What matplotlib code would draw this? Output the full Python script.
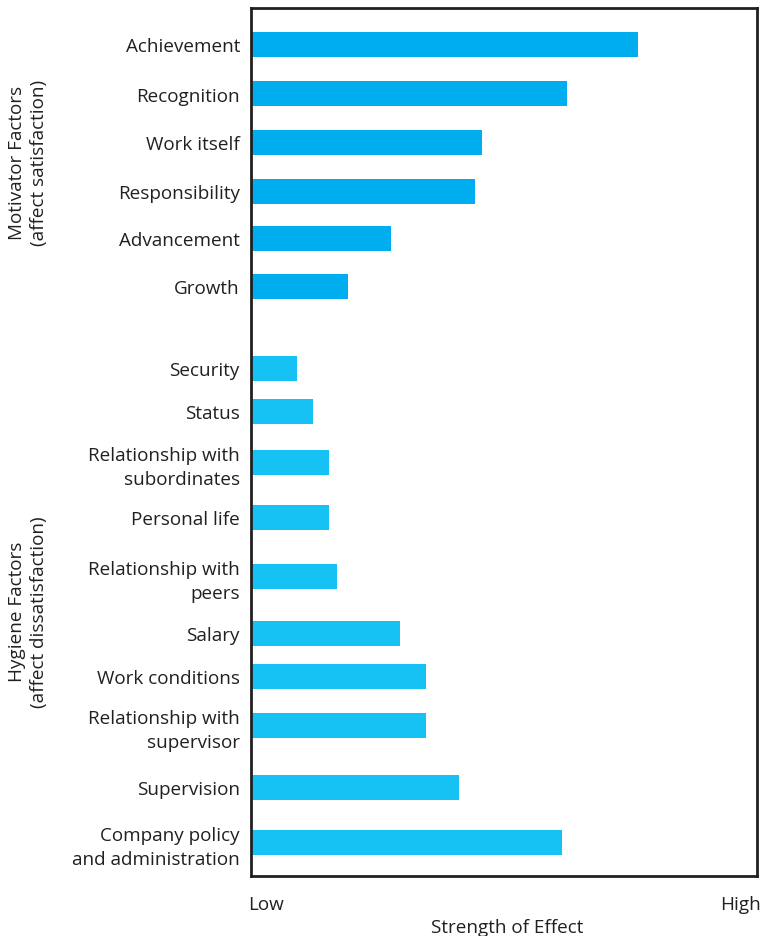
import matplotlib.pyplot as plt

plt.rcParams['font.family'] = ['Open Sans', 'DejaVu Sans']

# Data: factor names and strength (0 = low, 100 = high)
motivators = ['Achievement', 'Recognition', 'Work itself', 'Responsibility',
              'Advancement', 'Growth']
motivator_vals = [76.4, 62.4, 45.7, 44.2, 27.7, 19.2]

hygiene = ['Security', 'Status', 'Relationship with\nsubordinates', 'Personal life',
           'Relationship with\npeers', 'Salary', 'Work conditions',
           'Relationship with\nsupervisor', 'Supervision',
           'Company policy\nand administration']
hygiene_vals = [9.1, 12.3, 15.4, 15.4, 17.0, 29.5, 34.5, 34.5, 41.2, 61.4]

# layout: vertical centers of the bars (top-down, same units as figure pixels)
motivator_pos = [45, 94.5, 143, 192, 239, 287]
hygiene_pos = [369, 412, 463, 518, 577, 634, 677, 726, 788, 843]

fig = plt.figure(figsize=(7.61, 9.37), dpi=100)
ax = fig.add_axes([251 / 761, 1 - 877 / 937, 506 / 761, 868 / 937])

ax.barh(motivator_pos, motivator_vals, height=25, color='#00AEEF', linewidth=0)
ax.barh(hygiene_pos, hygiene_vals, height=25, color='#16C2F3', linewidth=0)

ax.set_xlim(0, 100)
ax.set_ylim(877, 9)
ax.set_xticks([])
ax.set_yticks(motivator_pos + hygiene_pos)
ax.set_yticklabels(motivators + hygiene, fontsize=13.6, color='#231F20',
                   linespacing=1.45)
ax.tick_params(axis='y', length=0, pad=8)
for s in ax.spines.values():
    s.set_linewidth(2)
    s.set_color('#231F20')

fig.text(248 / 761, 1 - 905 / 937, 'Low', fontsize=13.6, color='#231F20',
         ha='left', va='center')
fig.text(761 / 761, 1 - 905 / 937, 'High', fontsize=13.6, color='#231F20',
         ha='right', va='center')
fig.text(507 / 761, 1 - 928 / 937, 'Strength of Effect', fontsize=13.6,
         color='#231F20', ha='center', va='center')

fig.text(28 / 761, 1 - 163 / 937, 'Motivator Factors\n(affect satisfaction)',
         rotation=90, fontsize=13.6, color='#231F20', ha='center', va='center',
         linespacing=1.3)
fig.text(28 / 761, 1 - 612 / 937, 'Hygiene Factors\n(affect dissatisfaction)',
         rotation=90, fontsize=13.6, color='#231F20', ha='center', va='center',
         linespacing=1.3)

fig.savefig('out.png', dpi=100)
